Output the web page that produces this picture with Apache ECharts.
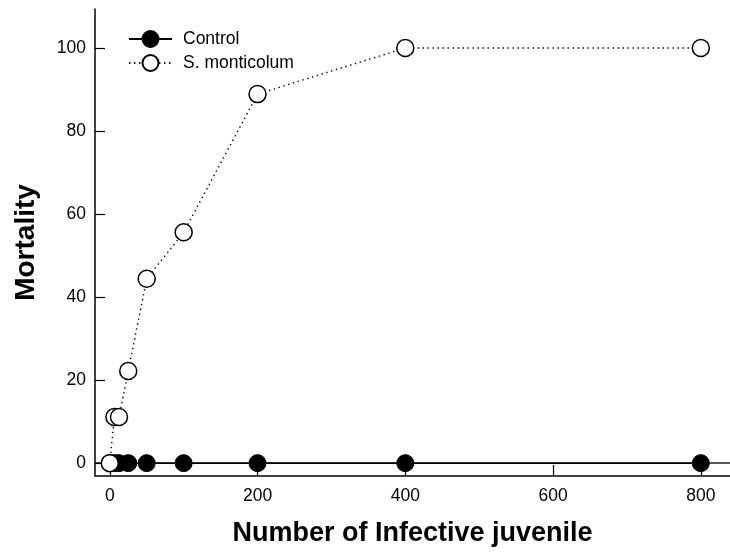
<!DOCTYPE html>
<html>
<head>
<meta charset="utf-8">
<script src="https://cdn.jsdelivr.net/npm/echarts@6/dist/echarts.min.js"></script>
<style>
html,body{margin:0;padding:0;background:#fff;}
#chart{width:730px;height:555px;}
</style>
</head>
<body>
<div id="chart"></div>
<script>
const doses = [0, 6.25, 12.5, 25, 50, 100, 200, 400, 800];
const controlMortality = [0, 0, 0, 0, 0, 0, 0, 0, 0];
const smonticolumMortality = [0, 11.1, 11.1, 22.2, 44.4, 55.6, 88.9, 100, 100];
const xTicks = [0, 200, 400, 600, 800];
const yTicks = [0, 20, 40, 60, 80, 100];
const seriesNames = ['Control', 'S. monticolum'];

const FONT = '"Liberation Sans", Arial, Helvetica, sans-serif';
const chart = echarts.init(document.getElementById('chart'), null, {renderer: 'canvas'});

const pairs = (ys) => doses.map((d, i) => [d, ys[i]]);

chart.setOption({
  animation: false,
  backgroundColor: '#fff',
  grid: {left: 95, top: 9, width: 636, height: 467, containLabel: false},
  legend: {
    left: 123, top: 25, orient: 'vertical',
    itemWidth: 43, itemHeight: 20, itemGap: 6,
    data: seriesNames,
    textStyle: {fontFamily: FONT, fontSize: 17.5, color: '#000', padding: [0, 0, 0, 6], lineHeight: 18}
  },
  xAxis: [{
    type: 'value', min: -20, max: 839.5,
    name: 'Number of Infective juvenile', nameLocation: 'middle', nameGap: 44,
    nameTextStyle: {fontFamily: FONT, fontSize: 27, fontWeight: 'bold', color: '#000'},
    axisLine: {show: true, onZero: false, lineStyle: {color: '#000', width: 1.5}},
    axisTick: {show: true, inside: true, length: 11, customValues: xTicks, lineStyle: {color: '#000', width: 1.2}},
    axisLabel: {customValues: xTicks, margin: 11, fontFamily: FONT, fontSize: 17.5, color: '#000'},
    splitLine: {show: false}
  }, {
    type: 'value', position: 'top', min: -20, max: 839.5,
    axisLine: {show: true, lineStyle: {color: '#222', width: 1.5}},
    axisTick: {show: false}, axisLabel: {show: false}, splitLine: {show: false}
  }],
  yAxis: {
    type: 'value', min: -3.1, max: 109.4,
    name: 'Mortality', nameLocation: 'middle', nameGap: 55,
    nameTextStyle: {fontFamily: FONT, fontSize: 28, fontWeight: 'bold', color: '#000'},
    axisLine: {show: true, onZero: false, lineStyle: {color: '#000', width: 1.5}},
    axisTick: {show: true, inside: true, length: 10, customValues: yTicks, lineStyle: {color: '#000', width: 1.2}},
    axisLabel: {customValues: yTicks, margin: 9, fontFamily: FONT, fontSize: 17.5, color: '#000'},
    splitLine: {show: false}
  },
  series: [{
    name: seriesNames[0], type: 'line', data: pairs(controlMortality),
    symbol: 'circle', symbolSize: 17, showSymbol: true,
    lineStyle: {color: '#000', width: 1.5},
    itemStyle: {color: '#000', borderColor: '#000', borderWidth: 1}
  }, {
    name: seriesNames[1], type: 'line', data: pairs(smonticolumMortality),
    symbol: 'circle', symbolSize: 17, showSymbol: true,
    lineStyle: {color: '#000', width: 1.4, type: [1.4, 3.6]},
    itemStyle: {color: '#fff', borderColor: '#000', borderWidth: 1.5}
  }]
});
</script>
</body>
</html>
